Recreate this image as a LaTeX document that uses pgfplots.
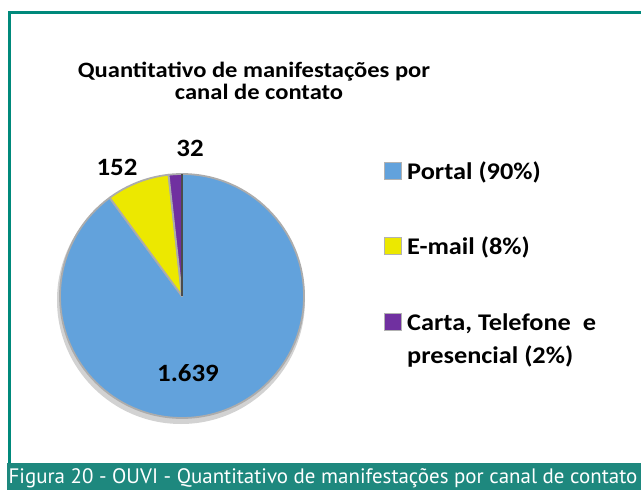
\documentclass[border=0pt]{standalone}
\usepackage{pgfplots}
\pgfplotsset{compat=1.18}
\usepackage{pgfplotstable}
\usepackage{fontspec}
\setmainfont{Carlito}
\newfontfamily\capfont{PT Sans}
\definecolor{frameteal}{RGB}{0,137,123}
\definecolor{bandteal}{RGB}{30,136,126}
\definecolor{pieblue}{RGB}{98,162,220}
\definecolor{pieyellow}{RGB}{236,232,0}
\definecolor{piepurple}{RGB}{112,48,160}
\pgfplotstableread{
canal valor
Portal 1639
Email 152
Carta 32
}\dados
\newcommand\wide[1]{\scalebox{1.1}[1]{#1}}
\pgfplotstablegetelem{0}{valor}\of\dados \edef\va{\pgfplotsretval}
\pgfplotstablegetelem{1}{valor}\of\dados \edef\vb{\pgfplotsretval}
\pgfplotstablegetelem{2}{valor}\of\dados \edef\vc{\pgfplotsretval}
\pgfmathsetmacro\tot{\va+\vb+\vc}
\pgfmathsetmacro\fa{\va/\tot}
\pgfmathsetmacro\fb{\vb/\tot}
\pgfmathsetmacro\fc{\vc/\tot}
\pgfmathsetmacro\aA{90-360*\fa}
\pgfmathsetmacro\aB{\aA-360*\fb}
\pgfmathsetmacro\aC{\aB-360*\fc}
\begin{document}%
\begin{tikzpicture}
\begin{axis}[at={(0,0)}, anchor=origin, x=1bp,y=1bp,xmin=0,xmax=641,ymin=0,ymax=490,hide axis,clip=false,
  enlargelimits=false]
% frame and caption band
\fill[bandteal] (axis cs:7,0) rectangle (axis cs:641,27);
\draw[frameteal, line width=3bp] (axis cs:9.5,27) -- (axis cs:9.5,477.5) -- (axis cs:645,477.5);
\node[white, font=\capfont\fontsize{21}{24}\selectfont, anchor=base] at (axis cs:323,7) {Figura 20 - OUVI - Quantitativo de manifestações por canal de contato};
% title
\node[font=\bfseries\fontsize{22}{24}\selectfont, anchor=base] at (axis cs:254,412) {\scalebox{1.12}[1]{Quantitativo de manifestações por}};
\node[font=\bfseries\fontsize{22}{24}\selectfont, anchor=base] at (axis cs:259,390) {\scalebox{1.12}[1]{canal de contato}};
% pie shadow
\fill[gray!35] (axis cs:181,190) circle[radius=124bp];
% wedges
\filldraw[fill=pieblue, draw=gray!65, line width=1.8bp, line join=round] (axis cs:182,194) -- ++(90:122bp) arc[start angle=90, end angle=\aA, radius=122bp] -- cycle;
\filldraw[fill=pieyellow, draw=gray!65, line width=1.8bp, line join=round] (axis cs:182,194) -- ++(\aA:122bp) arc[start angle=\aA, end angle=\aB, radius=122bp] -- cycle;
\filldraw[fill=piepurple, draw=gray!65, line width=1.8bp, line join=round] (axis cs:182,194) -- ++(\aB:122bp) arc[start angle=\aB, end angle=\aC, radius=122bp] -- cycle;
\draw[black!70, line width=1.8bp] (axis cs:182,194) -- ++(90:122bp);
% data labels
\node[font=\bfseries\fontsize{25}{28}\selectfont, anchor=base] at (axis cs:188,109) {\scalebox{1.08}[1]{1.639}};
\node[font=\bfseries\fontsize{25}{28}\selectfont, anchor=base] at (axis cs:117,315) {\scalebox{1.08}[1]{152}};
\node[font=\bfseries\fontsize{25}{28}\selectfont, anchor=base] at (axis cs:190,334) {\scalebox{1.08}[1]{32}};
% legend
\filldraw[fill=pieblue, draw=gray!60, line width=1bp] (axis cs:384,310) rectangle (axis cs:401,327);
\filldraw[fill=pieyellow, draw=gray!60, line width=1bp] (axis cs:384,235) rectangle (axis cs:401,252);
\filldraw[fill=piepurple, draw=gray!60, line width=1bp] (axis cs:384,159) rectangle (axis cs:401,176);
\node[font=\bfseries\fontsize{24}{26}\selectfont, anchor=base west, inner sep=0pt] at (axis cs:407,311) {\wide{Portal (90\%)}};
\node[font=\bfseries\fontsize{24}{26}\selectfont, anchor=base west, inner sep=0pt] at (axis cs:407,236) {\wide{E-mail (8\%)}};
\node[font=\bfseries\fontsize{24}{26}\selectfont, anchor=base west, inner sep=0pt] at (axis cs:407,160) {\wide{Carta, Telefone\ \ e}};
\node[font=\bfseries\fontsize{24}{26}\selectfont, anchor=base west, inner sep=0pt] at (axis cs:407,127) {\wide{presencial (2\%)}};
\end{axis}
\pgfresetboundingbox
\useasboundingbox (0,0) rectangle (641bp,490bp);
\end{tikzpicture}%
\end{document}
